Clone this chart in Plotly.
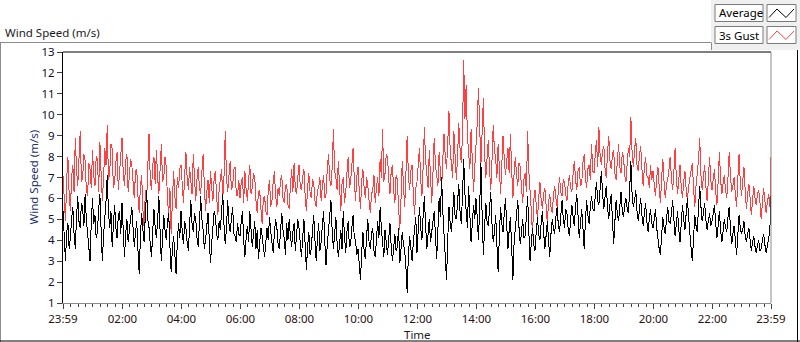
import pandas as pd
import plotly.graph_objects as go

# ---------------- data (2.5-minute samples, 23:59 -> 23:59 next day) ----------------
gust = [
    # 23:59 - 02:00
    7.1, 5.8, 4.9, 6.9, 8.0, 6.2, 5.4, 7.0,
    7.6, 6.3, 8.9, 7.4, 6.6, 7.9, 9.2, 6.8,
    7.0, 8.1, 7.8, 6.4, 6.1, 7.7, 7.4, 6.5,
    8.3, 7.1, 6.6, 8.0, 7.9, 6.3, 8.7, 7.2,
    5.9, 7.0, 8.4, 7.6, 9.5, 6.9, 7.2, 8.6,
    8.4, 6.5, 6.8, 7.7, 8.2, 6.4, 7.3, 8.0,
    # 02:00 - 04:00
    8.9, 7.2, 6.6, 7.8, 8.1, 6.3, 7.0, 7.9,
    7.6, 6.5, 6.0, 7.3, 7.4, 6.1, 5.3, 6.6,
    7.1, 5.5, 4.6, 6.4, 5.8, 7.5, 9.1, 6.9,
    6.4, 7.6, 8.0, 6.7, 8.3, 7.0, 6.2, 7.4,
    8.6, 6.8, 7.0, 8.0, 7.5, 6.0, 5.2, 6.5,
    4.3, 5.9, 7.3, 6.1, 5.5, 7.0, 6.5, 7.4,
    # 04:00 - 06:00
    7.6, 6.7, 5.8, 7.1, 8.2, 7.0, 6.4, 7.5,
    7.0, 6.2, 8.1, 6.8, 5.9, 6.9, 7.5, 6.5,
    6.2, 7.3, 8.1, 6.6, 5.4, 6.3, 6.9, 5.8,
    7.3, 6.5, 5.9, 7.0, 7.3, 6.1, 5.2, 6.4,
    6.9, 7.4, 6.0, 7.1, 9.2, 7.0, 6.3, 7.2,
    7.8, 6.4, 6.6, 7.4, 7.5, 6.2, 6.1, 6.9,
    # 06:00 - 08:00
    6.0, 6.8, 7.0, 5.8, 7.3, 6.4, 5.9, 6.9,
    7.6, 6.2, 6.5, 7.2, 7.0, 5.9, 5.3, 6.3,
    6.4, 5.5, 4.8, 6.0, 6.1, 5.4, 5.2, 6.4,
    6.9, 5.6, 5.9, 6.8, 7.3, 6.1, 5.6, 6.5,
    6.1, 6.9, 7.1, 6.0, 5.8, 6.6, 6.7, 5.7,
    5.5, 6.6, 7.4, 6.3, 7.7, 6.5, 6.2, 7.0,
    # 08:00 - 10:00
    7.6, 6.6, 6.4, 7.0, 7.4, 6.1, 5.4, 6.5,
    7.2, 6.3, 6.0, 6.9, 6.7, 5.9, 5.6, 6.4,
    6.5, 7.0, 5.9, 6.6, 7.1, 6.0, 6.2, 7.4,
    8.1, 6.9, 6.6, 7.5, 9.3, 7.3, 7.0, 6.4,
    7.8, 6.6, 5.4, 6.7, 7.0, 5.8, 6.3, 7.2,
    8.0, 6.5, 6.8, 7.6, 8.4, 6.9, 5.9, 7.0,
    # 10:00 - 12:00
    7.5, 6.4, 5.5, 6.8, 7.4, 6.5, 6.0, 7.0,
    6.6, 5.9, 5.3, 6.2, 6.4, 7.1, 5.8, 6.5,
    7.0, 6.1, 7.9, 7.0, 9.3, 6.8, 7.2, 8.1,
    8.0, 6.9, 6.2, 7.3, 7.6, 6.4, 5.8, 7.1,
    6.9, 5.6, 4.5, 6.0, 7.8, 6.6, 5.6, 7.2,
    9.0, 7.1, 6.4, 7.3, 7.6, 6.2, 5.2, 6.5,
    # 12:00 - 14:00
    6.8, 7.6, 8.4, 6.9, 6.1, 7.5, 9.4, 7.8,
    7.2, 6.5, 8.3, 7.1, 5.8, 7.2, 8.9, 7.6,
    7.0, 6.6, 8.2, 7.3, 6.4, 7.9, 9.1, 8.0,
    7.4, 8.6, 10.2, 8.3, 7.8, 7.0, 9.2, 8.1,
    6.9, 8.0, 9.6, 8.4, 7.7, 9.0, 12.6, 9.8,
    11.4, 9.0, 8.1, 7.4, 9.3, 7.8, 6.3, 7.5,
    # 14:00 - 16:00
    8.4, 9.6, 11.3, 8.8, 7.6, 9.2, 10.8, 8.1,
    7.0, 7.9, 8.8, 7.4, 6.4, 7.8, 9.5, 8.3,
    7.9, 7.0, 8.6, 7.5, 6.2, 7.6, 9.0, 7.9,
    7.1, 7.8, 8.4, 7.2, 9.1, 7.4, 6.0, 7.2,
    8.0, 7.1, 6.6, 7.7, 7.5, 6.5, 5.8, 6.9,
    7.2, 6.3, 9.2, 7.3, 6.5, 5.4, 4.2, 5.9,
    # 16:00 - 18:00
    6.4, 5.6, 5.0, 6.0, 6.8, 5.9, 5.5, 6.2,
    6.5, 5.7, 4.8, 5.8, 6.2, 5.6, 5.3, 6.1,
    6.6, 6.0, 5.6, 6.4, 7.0, 6.3, 6.1, 6.9,
    6.8, 6.2, 5.9, 6.7, 7.1, 6.5, 6.3, 7.2,
    7.8, 6.9, 6.4, 7.3, 7.5, 6.6, 6.7, 7.7,
    8.1, 7.0, 6.5, 7.4, 7.6, 6.9, 8.6, 7.3,
    # 18:00 - 20:00
    7.2, 8.1, 8.8, 7.5, 9.4, 8.0, 7.6, 8.3,
    8.5, 7.4, 7.0, 8.2, 9.0, 7.8, 7.4, 8.1,
    8.3, 7.2, 6.9, 7.8, 8.6, 7.5, 7.2, 8.2,
    8.0, 7.1, 6.8, 7.7, 8.4, 8.0, 9.9, 8.2,
    7.5, 8.3, 8.9, 7.6, 7.3, 8.1, 8.5, 7.4,
    6.6, 7.5, 8.0, 7.1, 7.0, 6.5, 7.6, 6.9,
    # 20:00 - 22:00
    7.3, 6.7, 6.1, 7.0, 7.5, 6.6, 5.8, 6.9,
    7.9, 6.8, 6.0, 6.7, 6.9, 7.4, 8.0, 6.9,
    6.4, 7.3, 8.4, 7.0, 6.2, 6.9, 7.6, 6.5,
    6.0, 6.8, 7.3, 6.4, 5.9, 6.6, 7.0, 7.4,
    7.7, 6.5, 5.6, 6.6, 7.2, 7.8, 8.9, 7.1,
    6.4, 7.0, 7.6, 6.6, 5.9, 6.8, 8.0, 6.9,
    # 22:00 - 23:59
    6.4, 6.9, 7.4, 6.3, 5.7, 6.8, 8.2, 6.9,
    6.2, 6.7, 7.1, 6.4, 6.0, 7.0, 8.2, 7.1,
    6.3, 6.6, 7.0, 6.2, 5.6, 6.9, 8.1, 6.8,
    6.1, 6.8, 7.5, 6.4, 5.5, 6.2, 6.7, 6.0,
    5.2, 5.9, 6.6, 6.0, 5.7, 6.2, 6.4, 5.8,
    5.0, 5.8, 6.5, 5.9, 5.3, 5.8, 6.2, 5.6,
    8.0,
]

average = [
    # 23:59 - 02:00
    5.4, 4.2, 3.0, 4.4, 4.8, 3.6, 4.1, 5.0,
    5.6, 4.3, 3.6, 5.1, 6.1, 4.9, 4.6, 5.8,
    5.5, 4.7, 6.2, 5.0, 4.3, 3.6, 3.0, 4.9,
    6.0, 4.8, 5.2, 4.1, 4.4, 5.5, 6.2, 4.5,
    3.0, 4.2, 5.0, 5.9, 7.1, 5.3, 4.6, 5.4,
    3.7, 4.8, 5.7, 4.6, 4.1, 5.2, 5.4, 4.3,
    # 02:00 - 04:00
    5.8, 4.5, 3.2, 4.3, 5.0, 3.9, 4.4, 5.1,
    5.6, 4.6, 3.7, 4.4, 4.9, 3.5, 2.4, 4.2,
    5.3, 4.5, 3.9, 5.2, 6.4, 5.0, 4.6, 3.8,
    3.2, 4.4, 5.5, 4.6, 4.1, 5.0, 6.1, 4.4,
    3.0, 4.1, 5.2, 4.5, 4.0, 4.9, 5.3, 3.7,
    2.5, 3.6, 4.2, 3.3, 2.4, 3.9, 4.8, 4.1,
    # 04:00 - 06:00
    5.4, 4.4, 3.8, 4.9, 4.6, 3.9, 3.5, 4.7,
    5.9, 4.8, 4.4, 5.3, 5.0, 4.1, 3.7, 4.8,
    6.1, 5.0, 4.5, 3.6, 4.0, 4.7, 5.3, 4.0,
    2.9, 3.9, 4.6, 5.4, 5.1, 4.3, 4.0, 4.9,
    4.5, 5.5, 6.2, 4.7, 3.8, 4.6, 5.9, 4.8,
    4.4, 5.0, 5.6, 4.3, 4.2, 3.9, 4.8, 4.3,
    # 06:00 - 08:00
    4.2, 4.9, 5.4, 4.0, 3.2, 4.1, 4.7, 3.9,
    5.4, 4.5, 3.7, 4.3, 4.9, 3.6, 4.5, 3.1,
    3.8, 4.6, 4.2, 3.5, 3.2, 3.9, 4.6, 4.0,
    5.1, 4.4, 4.0, 3.4, 4.4, 5.0, 4.6, 3.8,
    3.6, 4.4, 5.3, 4.5, 4.1, 3.3, 4.8, 4.0,
    5.0, 4.2, 3.7, 4.4, 4.8, 3.5, 4.3, 5.0,
    # 08:00 - 10:00
    4.6, 3.9, 3.2, 4.1, 5.0, 3.8, 2.6, 3.7,
    4.4, 3.3, 3.6, 4.5, 5.2, 4.0, 3.0, 4.1,
    4.8, 3.5, 3.9, 4.7, 5.4, 3.9, 2.8, 3.8,
    4.6, 5.0, 5.9, 4.4, 3.6, 4.3, 5.1, 3.9,
    3.2, 3.8, 4.5, 3.6, 5.4, 4.2, 3.4, 4.4,
    4.9, 3.7, 3.8, 4.6, 5.2, 4.1, 4.0, 3.3,
    # 10:00 - 12:00
    3.6, 2.9, 2.1, 3.4, 4.4, 3.5, 3.1, 4.2,
    5.0, 3.9, 3.6, 4.3, 4.6, 3.5, 3.2, 4.0,
    4.9, 4.1, 5.6, 4.6, 3.9, 3.2, 4.5, 3.8,
    3.3, 4.1, 4.8, 3.7, 3.0, 3.6, 4.3, 3.5,
    3.7, 4.6, 2.9, 3.6, 4.4, 3.8, 3.5, 2.7,
    1.5, 3.3, 4.2, 3.6, 3.0, 3.9, 4.6, 5.1,
    # 12:00 - 14:00
    3.4, 4.5, 5.6, 4.6, 4.0, 5.2, 6.1, 4.7,
    3.6, 4.3, 5.0, 3.9, 4.3, 4.9, 5.4, 4.2,
    3.1, 4.5, 6.0, 5.1, 7.0, 5.4, 4.3, 3.4,
    2.1, 4.0, 5.6, 4.8, 4.4, 5.3, 6.3, 5.1,
    5.0, 5.8, 6.7, 5.4, 4.8, 6.1, 7.9, 6.2,
    5.5, 4.6, 6.6, 5.2, 3.9, 4.8, 5.7, 5.0,
    # 14:00 - 16:00
    6.0, 5.1, 4.0, 5.6, 7.7, 5.2, 3.3, 4.6,
    5.8, 4.9, 4.7, 5.5, 6.3, 4.8, 3.9, 4.4,
    5.2, 3.8, 2.5, 4.2, 5.6, 4.8, 4.4, 5.3,
    6.0, 4.7, 3.6, 4.5, 5.1, 3.7, 2.1, 3.9,
    4.7, 5.4, 5.9, 4.6, 3.8, 4.4, 5.0, 4.1,
    4.2, 5.2, 6.1, 4.4, 3.0, 3.9, 4.6, 3.8,
    # 16:00 - 18:00
    3.5, 4.4, 5.1, 4.3, 4.0, 4.8, 5.4, 4.4,
    3.6, 4.2, 4.9, 4.0, 3.2, 4.3, 5.0, 4.6,
    4.3, 5.1, 5.6, 4.7, 4.4, 5.2, 5.9, 5.0,
    4.6, 5.5, 5.3, 4.5, 4.2, 5.0, 5.7, 5.1,
    4.7, 5.6, 6.2, 5.2, 4.1, 4.8, 5.5, 4.6,
    3.6, 4.9, 5.9, 5.2, 4.8, 5.6, 6.1, 5.5,
    # 18:00 - 20:00
    5.4, 6.1, 6.8, 5.9, 5.7, 6.5, 7.3, 6.2,
    5.5, 6.1, 6.6, 5.6, 5.0, 5.7, 6.2, 5.0,
    3.8, 4.9, 5.9, 5.3, 4.9, 5.6, 6.3, 5.4,
    5.1, 5.7, 6.0, 5.5, 5.3, 6.4, 7.8, 6.2,
    5.6, 5.9, 6.4, 5.4, 4.9, 5.5, 6.0, 5.2,
    4.7, 5.3, 5.8, 4.9, 4.4, 5.0, 5.5, 4.8,
    # 20:00 - 22:00
    4.6, 5.0, 5.5, 4.6, 4.0, 3.6, 3.3, 4.4,
    5.1, 4.6, 4.3, 5.0, 5.6, 4.9, 4.8, 5.3,
    5.9, 5.0, 4.2, 4.8, 5.4, 4.5, 3.9, 4.8,
    5.7, 5.0, 4.5, 5.3, 6.0, 5.1, 4.1, 3.6,
    3.0, 4.3, 5.2, 4.7, 4.4, 5.5, 6.6, 5.6,
    4.9, 5.3, 5.8, 5.0, 4.5, 4.9, 5.3, 4.7,
    # 22:00 - 23:59
    4.9, 5.3, 5.7, 4.8, 4.1, 4.7, 5.4, 4.5,
    3.9, 4.4, 5.0, 4.6, 4.4, 5.1, 5.6, 4.6,
    3.8, 4.3, 4.7, 4.0, 3.3, 4.2, 5.2, 4.6,
    4.3, 4.5, 4.9, 4.2, 3.9, 4.3, 4.6, 4.0,
    3.5, 3.9, 4.2, 3.7, 3.4, 3.8, 4.0, 3.5,
    3.6, 4.0, 4.3, 3.8, 3.4, 3.7, 4.0, 4.4,
    6.1,
]

tick_labels = ["23:59", "02:00", "04:00", "06:00", "08:00", "10:00", "12:00",
               "14:00", "16:00", "18:00", "20:00", "22:00", "23:59"]

series_names = ["Average", "3s Gust"]
series_colors = ["#000000", "#FF4040"]

# ---------------- build ----------------
start = pd.Timestamp("2024-01-01 23:59")
times = pd.date_range(start, periods=len(gust), freq="150s")
end = start + pd.Timedelta(hours=24)

tickvals = [start] + [pd.Timestamp("2024-01-02 " + t) for t in tick_labels[1:-1]] + [end]

fig = go.Figure()
fig.add_trace(go.Scatter(x=times, y=gust, mode="lines", name=series_names[1],
                         line=dict(color=series_colors[1], width=1), hoverinfo="skip"))
fig.add_trace(go.Scatter(x=times, y=average, mode="lines", name=series_names[0],
                         line=dict(color=series_colors[0], width=1), hoverinfo="skip"))

L, R, T, B = 63, 771, 52, 303
W, H = R - L, B - T


def px(x):
    return (x - L) / W


def py(y):
    return (B - y) / H


FONT = "Noto Sans, Segoe UI, Tahoma, sans-serif"
FS = 11.5

shapes = []
# light gray legend background area
shapes.append(dict(type="rect", xref="paper", yref="paper", x0=px(711), x1=px(800), y0=py(50), y1=py(0),
                   fillcolor="#F0F0F0", line=dict(width=0), layer="below"))
# outer panel frame
shapes.append(dict(type="line", xref="paper", yref="paper", x0=px(0), x1=px(711), y0=py(42.5), y1=py(42.5),
                   line=dict(color="#8C8C8C", width=1)))
shapes.append(dict(type="line", xref="paper", yref="paper", x0=px(711.5), x1=px(711.5), y0=py(42.5), y1=py(50),
                   line=dict(color="#8C8C8C", width=1)))
shapes.append(dict(type="line", xref="paper", yref="paper", x0=px(0.5), x1=px(0.5), y0=py(42.5), y1=py(342),
                   line=dict(color="#8C8C8C", width=1)))
shapes.append(dict(type="line", xref="paper", yref="paper", x0=px(0), x1=px(800), y0=py(341), y1=py(341),
                   line=dict(color="#000000", width=1)))
shapes.append(dict(type="line", xref="paper", yref="paper", x0=px(797.5), x1=px(797.5), y0=py(50), y1=py(342),
                   line=dict(color="#000000", width=1)))
# plot frame: top black, right gray
shapes.append(dict(type="line", xref="paper", yref="paper", x0=0, x1=1, y0=1, y1=1,
                   line=dict(color="#000000", width=1)))
shapes.append(dict(type="line", xref="paper", yref="paper", x0=1, x1=1, y0=0, y1=1,
                   line=dict(color="#8C8C8C", width=1)))

annotations = []
# legend boxes
for k, (name, col) in enumerate(zip(series_names, series_colors)):
    y0 = 4.5 + 22 * k
    y1 = y0 + 17
    shapes.append(dict(type="rect", xref="paper", yref="paper", x0=px(715), x1=px(763), y0=py(y1), y1=py(y0),
                       fillcolor="#FFFFFF", line=dict(color="#7A7A7A", width=1)))
    shapes.append(dict(type="rect", xref="paper", yref="paper", x0=px(767), x1=px(796), y0=py(y1), y1=py(y0),
                       fillcolor="#FFFFFF", line=dict(color="#7A7A7A", width=1)))
    pts = [(769, y0 + 13), (777, y0 + 4.5), (786, y0 + 13), (794, y0 + 4.5)]
    path = "M " + " L ".join(f"{px(a):.5f},{py(b):.5f}" for a, b in pts)
    shapes.append(dict(type="path", xref="paper", yref="paper", path=path, line=dict(color=col, width=1)))
    annotations.append(dict(xref="paper", yref="paper", x=px(717), y=py((y0 + y1) / 2), text=name,
                            showarrow=False, xanchor="left", yanchor="middle",
                            font=dict(family=FONT, size=FS, color="#000000")))

annotations.append(dict(xref="paper", yref="paper", x=px(3), y=py(32), text="Wind Speed (m/s)",
                        showarrow=False, xanchor="left", yanchor="middle",
                        font=dict(family=FONT, size=FS, color="#1A1A1A")))
annotations.append(dict(xref="paper", yref="paper", x=px((L + R) / 2), y=py(334), text="Time",
                        showarrow=False, xanchor="center", yanchor="middle",
                        font=dict(family=FONT, size=FS, color="#1A1A1A")))
annotations.append(dict(xref="paper", yref="paper", x=px(33), y=py((T + B) / 2), text="Wind Speed (m/s)",
                        showarrow=False, xanchor="center", yanchor="middle", textangle=-90,
                        font=dict(family=FONT, size=FS, color="#1C2F6B")))

fig.update_layout(
    width=800, height=342,
    margin=dict(l=L, r=800 - R, t=T, b=342 - B),
    paper_bgcolor="#FFFFFF", plot_bgcolor="#FFFFFF",
    showlegend=False,
    shapes=shapes, annotations=annotations,
    font=dict(family=FONT, size=FS, color="#1A1A1A"),
)
fig.update_xaxes(
    type="date", range=[start, end],
    tickmode="array", tickvals=tickvals, ticktext=tick_labels,
    ticks="outside", ticklen=5, tickcolor="#404040", tickwidth=1,
    showgrid=False, zeroline=False,
    showline=True, linecolor="#8C8C8C", linewidth=1,
    tickfont=dict(family=FONT, size=FS, color="#2A1010"),
    automargin=False,
    minor=dict(ticks="outside", ticklen=3, tickcolor="#404040", dtick=15 * 60 * 1000,
               tick0="2024-01-02 00:00", showgrid=False),
)
fig.update_yaxes(
    range=[1, 13], dtick=1, tick0=1,
    ticks="outside", ticklen=5, tickcolor="#404040", tickwidth=1,
    showgrid=False, zeroline=False,
    showline=True, linecolor="#000000", linewidth=1,
    tickfont=dict(family=FONT, size=FS, color="#101030"),
    automargin=False,
)

POST = (
    "document.body.style.margin='0';document.body.style.overflow='hidden';"
    "document.querySelectorAll('.scatterlayer path.js-line').forEach(function(p){p.style.shapeRendering='crispEdges';});"
)
fig.write_html("out.html", config={"displayModeBar": False}, post_script=POST)
